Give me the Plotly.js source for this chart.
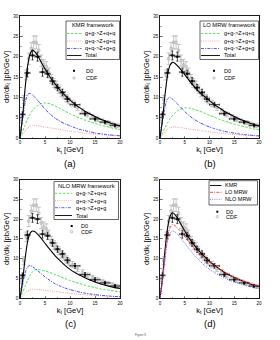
<!DOCTYPE html>
<html><head><meta charset="utf-8">
<script src="https://cdn.plot.ly/plotly-3.0.1.min.js"></script>
<style>html,body{margin:0;padding:0;background:#fff}#c{width:280px;height:340px}</style>
</head><body><div id="c"></div>
<script>
// ---- data ----
const kt = [0, 0.5, 1, 1.5, 2, 2.5, 3, 3.5, 4, 5, 6, 7, 8, 9, 10, 11, 12, 13, 14, 15, 16, 17, 18, 19, 20];
// KMR framework
const kmrGG = [0, 1.5, 3.1, 4.6, 5.8, 6.8, 7.5, 8.0, 8.4, 8.6, 8.4, 7.9, 7.3, 6.6, 6.0, 5.4, 4.9, 4.4, 4.0, 3.6, 3.2, 2.9, 2.6, 2.3, 2.1];
const kmrGQ = [0, 0.8, 1.7, 2.4, 2.9, 3.1, 3.1, 3.0, 2.9, 2.7, 2.5, 2.3, 2.1, 1.9, 1.7, 1.5, 1.35, 1.2, 1.05, 0.95, 0.85, 0.75, 0.65, 0.58, 0.5];
const kmrQQ = [0, 4.5, 8.5, 10.7, 11.0, 10.6, 10.0, 9.3, 8.6, 7.1, 5.9, 4.9, 4.1, 3.5, 3.0, 2.5, 2.1, 1.8, 1.5, 1.25, 1.05, 0.9, 0.75, 0.65, 0.55];
const kmrTotal = [0, 5, 12, 17.5, 20.6, 21.6, 21.2, 20.3, 19.2, 17.0, 15.0, 13.3, 11.8, 10.5, 9.3, 8.3, 7.4, 6.6, 5.9, 5.3, 4.7, 4.2, 3.7, 3.3, 2.9];
// LO MRW framework
const loGG = [0, 1.2, 2.5, 3.7, 4.7, 5.5, 6.1, 6.6, 7.0, 7.4, 7.3, 7.0, 6.6, 6.1, 5.6, 5.1, 4.6, 4.2, 3.8, 3.4, 3.1, 2.8, 2.5, 2.2, 2.0];
const loGQ = [0, 0.7, 1.5, 2.1, 2.5, 2.7, 2.7, 2.65, 2.6, 2.4, 2.2, 2.0, 1.85, 1.7, 1.5, 1.35, 1.2, 1.1, 0.95, 0.85, 0.75, 0.68, 0.6, 0.52, 0.46];
const loQQ = [0, 4, 7.6, 9.6, 10.0, 9.6, 9.0, 8.4, 7.8, 6.5, 5.4, 4.5, 3.8, 3.2, 2.7, 2.3, 1.95, 1.65, 1.4, 1.2, 1.0, 0.85, 0.72, 0.62, 0.52];
const loTotal = [0, 4.5, 10.5, 15.3, 17.8, 18.6, 18.4, 17.8, 17.1, 15.6, 14.0, 12.5, 11.2, 10.2, 9.2, 8.2, 7.4, 6.6, 5.9, 5.3, 4.7, 4.2, 3.7, 3.3, 2.9];
// NLO MRW framework
const nloGG = [0, 1.4, 3.0, 4.5, 5.8, 6.7, 7.2, 7.3, 7.2, 6.9, 6.5, 6.0, 5.5, 5.0, 4.5, 4.1, 3.7, 3.3, 3.0, 2.7, 2.4, 2.2, 2.0, 1.8, 1.6];
const nloGQ = [0, 0.6, 1.3, 1.8, 2.1, 2.3, 2.3, 2.25, 2.2, 2.0, 1.85, 1.7, 1.55, 1.4, 1.25, 1.1, 1.0, 0.9, 0.8, 0.7, 0.62, 0.55, 0.48, 0.42, 0.37];
const nloQQ = [0, 3.3, 6.3, 7.9, 8.3, 8.0, 7.5, 7.0, 6.5, 5.4, 4.5, 3.7, 3.1, 2.6, 2.2, 1.85, 1.55, 1.3, 1.1, 0.93, 0.78, 0.66, 0.56, 0.47, 0.4];
const nloTotal = [0, 4.2, 9.8, 14.2, 16.4, 17.0, 16.8, 16.2, 15.5, 13.9, 12.3, 10.8, 9.5, 8.3, 7.3, 6.5, 5.8, 5.2, 4.6, 4.1, 3.7, 3.3, 3.0, 2.7, 2.5];
// D0 data
const d0X = [0.5, 1.5, 2.5, 3.5, 4.5, 5.5, 6.5, 7.5, 8.5, 9.5, 11, 13, 15, 17, 19];
const d0Y = [5.8, 16.0, 20.3, 20.0, 16.2, 15.8, 14.0, 12.4, 11.2, 9.6, 8.2, 6.0, 4.7, 3.9, 3.1];
const d0Xerr = [0.5, 0.5, 0.5, 0.5, 0.5, 0.5, 0.5, 0.5, 0.5, 0.5, 1, 1, 1, 1, 1];
const d0Yerr = [0.6, 1.0, 1.1, 1.1, 1.0, 0.9, 0.9, 0.8, 0.8, 0.7, 0.6, 0.5, 0.5, 0.4, 0.4];
// CDF data
const cdfX = [0.25, 0.75, 1.25, 1.75, 2.25, 2.75, 3.25, 3.75, 4.25, 4.75, 5.25, 5.75, 6.25, 6.75, 7.25, 7.75, 8.25, 8.75, 9.25, 9.75, 10.5, 11.5, 12.5, 13.5, 14.5, 15.5, 16.5, 17.5, 18.5, 19.5];
const cdfY = [4.5, 9.5, 15.5, 19.5, 22.0, 23.5, 23.5, 21.5, 19.0, 18.0, 17.5, 16.0, 14.5, 13.5, 13.0, 12.0, 11.0, 10.5, 9.8, 9.2, 8.5, 7.5, 6.5, 5.8, 5.2, 4.6, 4.2, 3.8, 3.4, 3.0];
const cdfErr = [0.8, 1.0, 1.2, 1.4, 1.5, 1.6, 1.6, 1.5, 1.4, 1.3, 1.3, 1.2, 1.1, 1.1, 1.0, 1.0, 0.9, 0.9, 0.9, 0.8, 0.8, 0.7, 0.7, 0.6, 0.6, 0.6, 0.5, 0.5, 0.5, 0.5];
// labels
const xTicks = [0, 5, 10, 15, 20];
const yTicks = [0, 5, 10, 15, 20, 25, 30];
const procNames = ['g+g->Z+q+q', 'g+q->Z+g+q', 'q+q->Z+g+g', 'Total'];
const frameNames = ['KMR framework', 'LO MRW framework', 'NLO MRW framework'];
const compNames = ['KMR', 'LO MRW', 'NLO MRW'];
const panelLabels = ['(a)', '(b)', '(c)', '(d)'];

// ---- styles ----
const FONT = 'Liberation Sans, Arial, sans-serif';
const cGreen = '#33dd33', cPink = '#ff8c8c', cBlue = '#3333ff';
const DASH = '2.5px,1.5px', DOT = '1px,1.2px', DASHDOT = '3px,1.2px,1px,1.2px';
const W = 280, H = 340;
const px = x => x / W, py = y => 1 - y / H;

const traces = [];
function dataTraces(ax) {
  const xa = 'x' + (ax === 1 ? '' : ax), ya = 'y' + (ax === 1 ? '' : ax);
  traces.push({x: cdfX, y: cdfY, xaxis: xa, yaxis: ya, type: 'scatter', mode: 'markers', showlegend: false,
    marker: {symbol: 'square-open', size: 2.3, color: '#b4b4b4', line: {width: 0.8, color: '#b4b4b4'}},
    error_y: {type: 'data', array: cdfErr, color: '#b8b8b8', thickness: 0.8, width: 2}});
  traces.push({x: d0X, y: d0Y, xaxis: xa, yaxis: ya, type: 'scatter', mode: 'markers', showlegend: false,
    marker: {symbol: 'square', size: 2.3, color: '#000'},
    error_y: {type: 'data', array: d0Yerr, color: '#000', thickness: 0.7, width: 1},
    error_x: {type: 'data', array: d0Xerr, color: '#000', thickness: 0.7, width: 1}});
}
function line(ax, y, color, dash, w, name) {
  const xa = 'x' + (ax === 1 ? '' : ax), ya = 'y' + (ax === 1 ? '' : ax);
  traces.push({x: kt, y: y, xaxis: xa, yaxis: ya, type: 'scatter', mode: 'lines', name: name, showlegend: false,
    line: {color: color, dash: dash, width: w, shape: 'spline', smoothing: 0.6}});
}
const sets = [[kmrGG, kmrGQ, kmrQQ, kmrTotal], [loGG, loGQ, loQQ, loTotal], [nloGG, nloGQ, nloQQ, nloTotal]];
for (let p = 0; p < 3; p++) {
  dataTraces(p + 1);
  line(p + 1, sets[p][0], cGreen, DASH, 0.9, procNames[0]);
  line(p + 1, sets[p][1], cPink, DOT, 0.9, procNames[1]);
  line(p + 1, sets[p][2], cBlue, DASHDOT, 0.9, procNames[2]);
  line(p + 1, sets[p][3], '#000', 'solid', 1.1, procNames[3]);
}
dataTraces(4);
line(4, kmrTotal, '#000', 'solid', 1.1, compNames[0]);
line(4, loTotal, '#ff3030', DASHDOT, 1.0, compNames[1]);
line(4, nloTotal, '#6a6aff', DOT, 1.0, compNames[2]);

// ---- layout ----
const xDom = [[20, 120], [160, 259], [20, 120], [160, 259]];
const yDom = [[16, 138], [16, 138], [179.5, 298.3], [179.5, 298.3]];
const layout = {width: W, height: H, margin: {l: 0, r: 0, t: 0, b: 0}, paper_bgcolor: '#fff', plot_bgcolor: '#fff',
  font: {family: FONT, color: '#000'}, showlegend: false, shapes: [], annotations: []};
for (let i = 0; i < 4; i++) {
  const s = i === 0 ? '' : String(i + 1);
  layout['xaxis' + s] = {domain: [px(xDom[i][0]), px(xDom[i][1])], range: [0, 20], anchor: 'y' + s,
    tickvals: xTicks, ticktext: xTicks.map(String), ticks: 'inside', ticklen: 2.5, tickwidth: 0.6, showgrid: false, zeroline: false,
    showline: true, linecolor: '#000', linewidth: 0.9, mirror: true, tickfont: {size: 4.5, family: FONT},
    minor: {dtick: 2.5, ticks: 'inside', ticklen: 1.5, tickwidth: 0.5, showgrid: false},
    title: {text: 'k<sub>t</sub> [GeV]', font: {size: 7.5, family: FONT}, standoff: 1}};
  layout['yaxis' + s] = {domain: [py(yDom[i][1]), py(yDom[i][0])], range: [0, 30], anchor: 'x' + s,
    tickvals: yTicks, ticktext: yTicks.map(String), ticks: 'inside', ticklen: 2.5, tickwidth: 0.6, showgrid: false, zeroline: false,
    showline: true, linecolor: '#000', linewidth: 0.9, mirror: true, tickfont: {size: 4.5, family: FONT},
    minor: {dtick: 2.5, ticks: 'inside', ticklen: 1.5, tickwidth: 0.5, showgrid: false},
    title: {text: 'dσ/dk<sub>t</sub> [pb/GeV]', font: {size: 7.5, family: FONT}, standoff: 2.5}};
  const cx = (xDom[i][0] + xDom[i][1]) / 2;
  layout.annotations.push({xref: 'paper', yref: 'paper', x: px(cx), y: py(yDom[i][1] + 25), text: panelLabels[i],
    showarrow: false, font: {size: 9.5, family: FONT}, xanchor: 'center', yanchor: 'middle'});
}
layout.annotations.push({xref: 'paper', yref: 'paper', x: px(140), y: py(335), text: 'Figure 8', showarrow: false,
  font: {size: 3, family: FONT, color: '#555'}, xanchor: 'center', yanchor: 'middle'});

function txt(x, y, t, size, anchor) {
  layout.annotations.push({xref: 'paper', yref: 'paper', x: px(x), y: py(y), text: t, showarrow: false,
    font: {size: size, family: FONT}, xanchor: anchor || 'left', yanchor: 'middle'});
}
function seg(x0, x1, y, color, dash, w) {
  layout.shapes.push({type: 'line', xref: 'paper', yref: 'paper', x0: px(x0), x1: px(x1), y0: py(y), y1: py(y),
    line: {color: color, dash: dash, width: w}});
}
function box(x0, x1, y0, y1) {
  layout.shapes.push({type: 'rect', xref: 'paper', yref: 'paper', x0: px(x0), x1: px(x1), y0: py(y1), y1: py(y0),
    line: {color: '#000', width: 0.6}, fillcolor: 'rgba(255,255,255,0)'});
}
function dataKey(mx, tx, y0, y1) {
  layout.shapes.push({type: 'rect', xref: 'paper', yref: 'paper', x0: px(mx - 1), x1: px(mx + 1), y0: py(y0 + 1), y1: py(y0 - 1),
    line: {width: 0}, fillcolor: '#000'});
  layout.shapes.push({type: 'rect', xref: 'paper', yref: 'paper', x0: px(mx - 1), x1: px(mx + 1), y0: py(y1 + 1), y1: py(y1 - 1),
    line: {width: 0.7, color: '#b4b4b4'}, fillcolor: 'rgba(255,255,255,0)'});
  txt(tx, y0, 'D0', 5.5); txt(tx, y1, 'CDF', 5.5);
}
const legCol = [[cGreen, DASH], [cPink, DOT], [cBlue, DASHDOT], ['#000', 'solid']];
function frameLegend(f, bx0, bx1, by0, by1, ty, iy, sx0, sx1, tx) {
  box(bx0, bx1, by0, by1);
  txt((bx0 + bx1) / 2, ty, frameNames[f], 5.8, 'center');
  for (let k = 0; k < 4; k++) {
    seg(sx0, sx1, iy[k], legCol[k][0], legCol[k][1], k === 3 ? 0.9 : 0.8);
    txt(tx, iy[k], procNames[k], 5.5);
  }
}
frameLegend(0, 66, 119.5, 21, 59.5, 25.5, [33.5, 41, 48.5, 55.5], 67, 81.5, 83);
dataKey(74, 84, 70.7, 78);
frameLegend(1, 200, 258.5, 21, 59.5, 25.5, [33.5, 41, 48.5, 55.5], 201, 220, 222);
dataKey(214, 222, 70.7, 78);
frameLegend(2, 54, 118.5, 181.5, 219.5, 186, [193.3, 200.7, 207.7, 215.5], 55, 72, 73.5);
dataKey(71.7, 79, 226, 231.7);
// panel d legend
box(209, 257.5, 180.7, 205);
const dCol = [['#000', 'solid'], ['#ff3030', DASHDOT], ['#6a6aff', DOT]];
const dY = [185.5, 192.3, 199.3];
for (let k = 0; k < 3; k++) { seg(210, 221.5, dY[k], dCol[k][0], dCol[k][1], 0.9); txt(222.7, dY[k], compNames[k], 5.5); }
dataKey(217.3, 223.5, 211.7, 216.7);

Plotly.newPlot('c', traces, layout, {staticPlot: true, displayModeBar: false});
</script></body></html>
